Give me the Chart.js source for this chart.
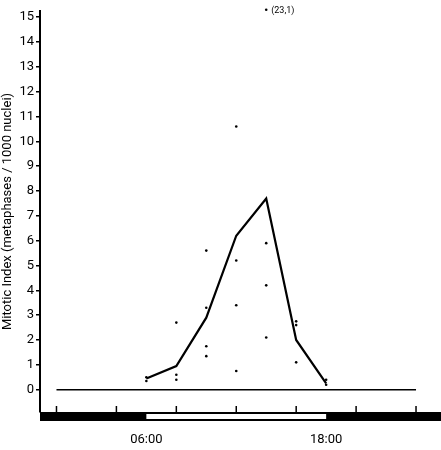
<!DOCTYPE html>
<html>
<head>
<script src="https://cdn.jsdelivr.net/npm/chart.js@4"></script>
<style>
  body { margin: 0; background: #fff; }
  #wrap { width: 441px; height: 450px; }
</style>
</head>
<body>
<div id="wrap"><canvas id="c"></canvas></div>
<script>
// hours of day for mean curve
const meanHours = [6, 8, 10, 12, 14, 16, 18];
const meanValues = [0.45, 0.95, 2.9, 6.2, 7.7, 2.0, 0.25];
// individual samples
const sampleHours = [6, 6, 8, 8, 8, 10, 10, 10, 10, 12, 12, 12, 12, 14, 14, 14, 14, 16, 16, 16, 18, 18];
const sampleValues = [0.5, 0.35, 2.7, 0.6, 0.4, 5.6, 3.3, 1.75, 1.35, 10.6, 5.2, 3.4, 0.75, 15.3, 5.9, 4.2, 2.1, 2.75, 2.6, 1.1, 0.4, 0.2];
const outlierLabel = "(23,1)";
const baseline = [0, 24];
const tickHours = [0, 4, 8, 12, 16, 20, 24];
const labelHours = [6, 18];
const lightsOn = 6, lightsOff = 18;

const font = "'Liberation Sans Narrow', 'Roboto', sans-serif";

const extras = {
  id: "extras",
  afterDraw(chart) {
    const ctx = chart.ctx;
    const x = chart.scales.x, y = chart.scales.y;
    const area = chart.chartArea;
    const barTop = area.bottom, barH = 9;
    ctx.save();
    ctx.fillStyle = "#000";
    ctx.fillRect(area.left, barTop, chart.width - area.left, barH);
    ctx.fillStyle = "#fff";
    ctx.fillRect(x.getPixelForValue(lightsOn), barTop + 2, x.getPixelForValue(lightsOff) - x.getPixelForValue(lightsOn), barH - 4);
    ctx.strokeStyle = "#000";
    ctx.lineWidth = 1.5;
    tickHours.forEach(h => {
      const px = x.getPixelForValue(h);
      ctx.beginPath(); ctx.moveTo(px, barTop); ctx.lineTo(px, barTop - 6); ctx.stroke();
    });
    // outlier note
    const last = sampleValues.indexOf(15.3);
    ctx.fillStyle = "#000";
    ctx.font = "9px " + font;
    ctx.fillText(outlierLabel, x.getPixelForValue(sampleHours[last]) + 5, y.getPixelForValue(sampleValues[last]) + 3);
    ctx.restore();
  }
};

new Chart(document.getElementById("c"), {
  type: "scatter",
  data: {
    datasets: [
      {
        data: meanHours.map((h, i) => ({ x: h, y: meanValues[i] })),
        showLine: true, borderColor: "#000", borderWidth: 2.2, pointRadius: 0, tension: 0
      },
      {
        data: sampleHours.map((h, i) => ({ x: h, y: sampleValues[i] })),
        pointRadius: 1.3, backgroundColor: "#000", borderWidth: 0, clip: false
      },
      {
        data: baseline.map(h => ({ x: h, y: 0 })),
        showLine: true, borderColor: "#000", borderWidth: 1.5, pointRadius: 0
      }
    ]
  },
  options: {
    responsive: true, maintainAspectRatio: false, animation: false,
    layout: { padding: { top: 11, right: 0, bottom: 2, left: 0 } },
    plugins: { legend: { display: false }, tooltip: { enabled: false } },
    scales: {
      x: {
        type: "linear", min: -1.1, max: 25.4,
        afterBuildTicks: s => { s.ticks = labelHours.map(v => ({ value: v })); },
        afterFit: s => { s.height = 36; },
        ticks: { color: "#000", font: { family: font, size: 13 }, padding: 12,
          callback: v => String(v).padStart(2, "0") + ":00" },
        grid: { display: false },
        border: { display: false }
      },
      y: {
        min: -0.9, max: 15.25,
        afterBuildTicks: s => { s.ticks = Array.from({ length: 16 }, (_, i) => ({ value: i })); },
        afterFit: s => { s.width = 40; },
        ticks: { color: "#000", font: { family: font, size: 13 }, padding: 2 },
        grid: { drawOnChartArea: false, tickLength: 4, color: "#000", lineWidth: 1.5 },
        border: { color: "#000", width: 2 },
        title: { display: true, text: "Mitotic Index (metaphases / 1000 nuclei)", color: "#000",
          font: { family: font, size: 13 }, padding: 0 }
      }
    }
  },
  plugins: [extras]
});
</script>
</body>
</html>
